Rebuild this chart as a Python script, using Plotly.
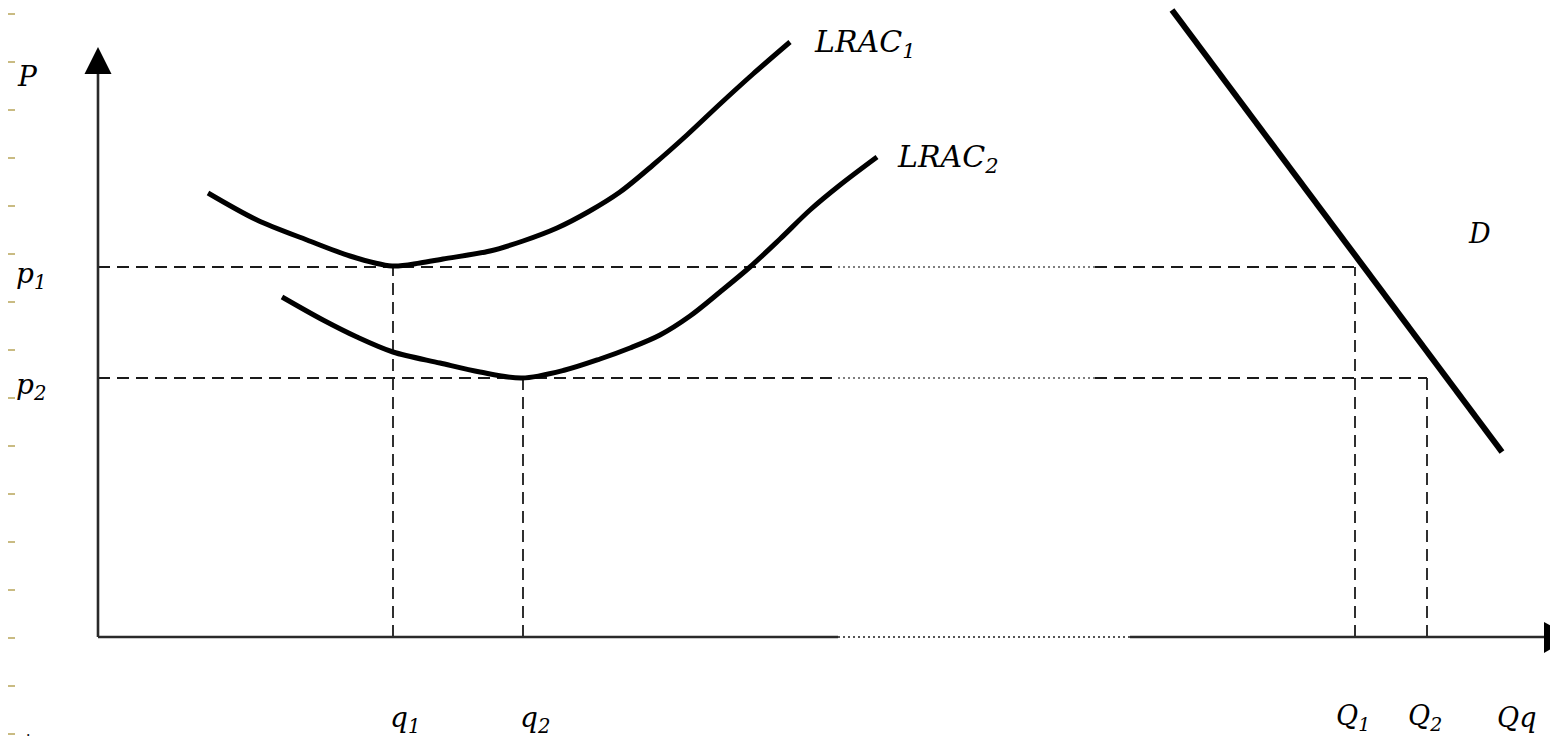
import plotly.graph_objects as go

# ---- data (quantity q, price p) ----
lrac1_q = [110, 159, 209, 252, 294, 322, 345, 392, 425, 459, 490, 522, 555, 589, 622, 655, 692]
lrac1_p = [444, 417, 397, 381, 371, 374, 378, 386, 396, 409, 425, 445, 472, 502, 533, 563, 595]

lrac2_q = [184, 225, 259, 295, 342, 382, 424, 467, 502, 532, 562, 592, 622, 652, 682, 712, 742, 779]
lrac2_p = [340, 317, 300, 285, 274, 265, 259, 267, 278, 289, 302, 321, 345, 370, 398, 427, 452, 480]

demand_q = [1074, 1404]
demand_p = [627, 185]

p_levels = [370, 259]          # p1, p2
q_small = [295, 425]           # q1, q2
q_market = [1257, 1329]        # Q1, Q2
p_labels = ["p<sub>1</sub>", "p<sub>2</sub>"]
q_labels = ["q<sub>1</sub>", "q<sub>2</sub>"]
Q_labels = ["Q<sub>1</sub>", "Q<sub>2</sub>"]

# ---- geometry (page body has an 8px margin, compensate) ----
OFF = 8
X0, X1 = -98 + OFF, 1460 + OFF
Y1 = 637 - OFF
Y0 = Y1 - 741
Y_AX_TOP = 563
X_AX_END = 1446
DOT_A, DOT_B, DOT_AX_B = 740, 997, 1032

FONT = "DejaVu Serif"
INK = "#000000"
AXC = "#1a1a1a"

fig = go.Figure()

def seg(x, y, dash, width=1.8, color=AXC):
    fig.add_trace(go.Scatter(x=x, y=y, mode="lines", hoverinfo="skip",
                             line=dict(color=color, width=width, dash=dash), showlegend=False))

DASH = "12px,7px"
DOTS = "2px,3px"

# horizontal dashed guides with dotted middle part
for p, Q in zip(p_levels, q_market):
    seg([0, DOT_A], [p, p], DASH)
    seg([DOT_A, DOT_B], [p, p], DOTS, width=1.6, color="#555555")
    seg([DOT_B, Q], [p, p], DASH)

# vertical dashed guides
for q, p in zip(q_small, p_levels):
    seg([q, q], [0, p], DASH)
for Q, p in zip(q_market, p_levels):
    seg([Q, Q], [0, p], DASH)

# axes
seg([0, 0], [0, Y_AX_TOP], "solid", width=2.6, color="#2a2a2a")
seg([0, DOT_A], [0, 0], "solid", width=2.6, color="#2a2a2a")
seg([DOT_A, DOT_AX_B], [0, 0], DOTS, width=2.2, color="#555555")
seg([DOT_AX_B, X_AX_END], [0, 0], "solid", width=2.6, color="#2a2a2a")

# curves
fig.add_trace(go.Scatter(x=lrac1_q, y=lrac1_p, mode="lines", name="LRAC1",
                         line=dict(color=INK, width=5, shape="spline", smoothing=0.9), showlegend=False))
fig.add_trace(go.Scatter(x=lrac2_q, y=lrac2_p, mode="lines", name="LRAC2",
                         line=dict(color=INK, width=5, shape="spline", smoothing=0.9), showlegend=False))
fig.add_trace(go.Scatter(x=demand_q, y=demand_p, mode="lines", name="D",
                         line=dict(color=INK, width=6), showlegend=False))

shapes = []
shapes.append(dict(type="path", xref="x", yref="y",
                   path=f"M -13.5 {Y_AX_TOP} L 13.5 {Y_AX_TOP} L 0 {Y_AX_TOP+27} Z",
                   fillcolor=INK, line=dict(width=0)))
shapes.append(dict(type="path", xref="x", yref="y",
                   path=f"M {X_AX_END} -16 L {X_AX_END} 15 L {X_AX_END+28} 0 Z",
                   fillcolor=INK, line=dict(width=0)))
# slide decoration: tan tick marks on left edge
for k in range(16):
    yy = 637 - (14 + 48 * k)
    shapes.append(dict(type="line", xref="x", yref="y", x0=X0, x1=X0 + 7, y0=yy, y1=yy,
                       line=dict(color="#c9bb82", width=2)))

ann = []
def txt(x, y, s, size=27, xanchor="center"):
    ann.append(dict(x=x, y=y, xref="x", yref="y", text=s, showarrow=False, xanchor=xanchor,
                    yanchor="middle", font=dict(family=FONT, size=size, color=INK)))

txt(-71, 561, "<i>P</i>", size=28)
for p, lab in zip(p_levels, p_labels):
    txt(-67, p - 8, f"<i>{lab}</i>", size=28)
for q, lab in zip(q_small, q_labels):
    txt(q + 12, -82, f"<i>{lab}</i>", size=28)
for Q, lab in zip(q_market, Q_labels):
    txt(Q - 2, -80, f"<i>{lab}</i>", size=27)
txt(1418, -80, "<i>Qq</i>", size=27)
txt(714, 594, "<i>LRAC<sub>1</sub></i>", size=30, xanchor="left")
txt(797, 479, "<i>LRAC<sub>2</sub></i>", size=30, xanchor="left")
txt(1381, 404, "<i>D</i>", size=27)
txt(-70, -94, ".", size=14)

fig.update_layout(
    width=1558, height=741, margin=dict(l=0, r=0, t=0, b=0),
    paper_bgcolor="white", plot_bgcolor="white",
    xaxis=dict(range=[X0, X1], visible=False, fixedrange=True),
    yaxis=dict(range=[Y0, Y1], visible=False, fixedrange=True),
    shapes=shapes, annotations=ann, showlegend=False,
)

fig.write_html("out.html", config={"displayModeBar": False})
